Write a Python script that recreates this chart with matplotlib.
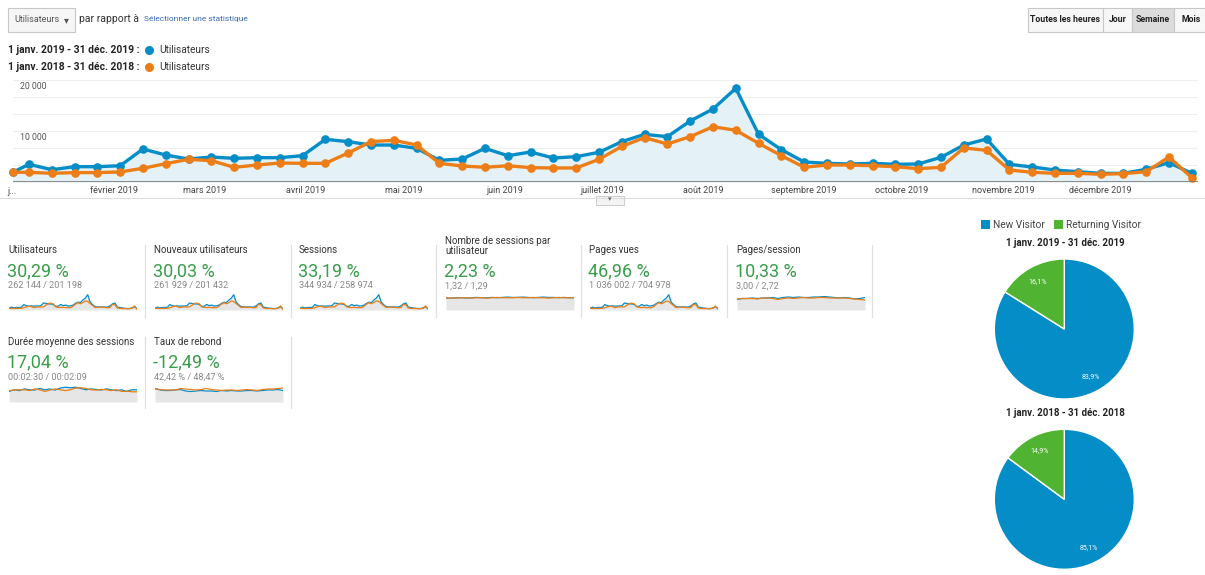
import numpy as np
import pandas as pd
import matplotlib
matplotlib.use("Agg")
import matplotlib.pyplot as plt
import matplotlib.transforms as mtransforms
from matplotlib.patches import Rectangle

plt.rcParams["font.family"] = ["Roboto", "DejaVu Sans"]

# weekly users (first point = Jan 1, then every Sunday)
week_dates = np.concatenate([[np.datetime64("2019-01-01")],
                             pd.date_range("2019-01-06", periods=52, freq="7D").values.astype("datetime64[D]")])
users_2019 = [1960, 3530, 2470, 3060, 3060, 3250, 6530, 5350, 4570, 4960, 4700, 4830, 4830, 5220,
              8430, 7970, 7310, 7310, 6660, 4310, 4570, 6660, 5220, 5940, 4760, 5030, 5880,
              7970, 9410, 8950, 12020, 14370, 18430, 9410, 6400, 3980, 3720, 3590, 3720, 3530,
              3590, 4900, 7310, 8490, 3530, 3000, 2410, 2080, 1760, 1760, 2550, 3850, 1760]
users_2018 = [1960, 1960, 1760, 1900, 1900, 2030, 2750, 3660, 4500, 4240, 2940, 3390, 3780, 3720,
              3720, 5750, 7970, 8230, 7310, 3720, 3200, 2940, 3250, 2870, 2810, 2810, 4500,
              7050, 8750, 7510, 8950, 10900, 10200, 7650, 5220, 2940, 3390, 3390, 3250, 3060,
              2670, 2940, 6730, 6270, 2410, 1960, 1760, 1760, 1570, 1700, 2080, 4960, 900]

month_starts = pd.date_range("2019-02-01", periods=11, freq="MS").values.astype("datetime64[D]")
month_labels = ["février 2019", "mars 2019", "avril 2019", "mai 2019", "juin 2019", "juillet 2019",
                "août 2019", "septembre 2019", "octobre 2019", "novembre 2019", "décembre 2019"]

# scorecards
card_titles = ["Utilisateurs", "Nouveaux utilisateurs", "Sessions", "Nombre de sessions par\nutilisateur",
               "Pages vues", "Pages/session", "Durée moyenne des sessions", "Taux de rebond"]
card_changes = ["30,29 %", "30,03 %", "33,19 %", "2,23 %", "46,96 %", "10,33 %", "17,04 %", "-12,49 %"]
card_totals = ["262 144 / 201 198", "261 929 / 201 432", "344 934 / 258 974", "1,32 / 1,29",
               "1 036 002 / 704 978", "3,00 / 2,72", "00:02:30 / 00:02:09", "42,42 % / 48,47 %"]

# sparklines for ratio metrics (approximate, bi-weekly)
spu_2019 = [1.30, 1.30, 1.31, 1.31, 1.30, 1.31, 1.32, 1.31, 1.31, 1.32, 1.31, 1.32, 1.33,
            1.32, 1.32, 1.33, 1.32, 1.31, 1.32, 1.33, 1.32, 1.32, 1.31, 1.32, 1.31, 1.31]
spu_2018 = [1.31, 1.30, 1.30, 1.31, 1.31, 1.30, 1.31, 1.31, 1.30, 1.31, 1.32, 1.31, 1.31,
            1.31, 1.32, 1.31, 1.31, 1.32, 1.31, 1.31, 1.30, 1.31, 1.32, 1.31, 1.31, 1.31]
pps_2019 = [2.85, 2.95, 2.95, 3.00, 2.95, 3.00, 3.00, 3.05, 2.95, 3.05, 3.10, 3.05, 3.10,
            3.05, 3.05, 3.10, 3.10, 3.15, 3.10, 3.05, 3.00, 3.05, 3.00, 2.90, 2.95, 3.05]
pps_2018 = [2.90, 2.95, 2.95, 2.95, 2.90, 3.00, 3.00, 2.95, 2.85, 2.95, 3.00, 2.95, 3.00,
            3.05, 3.00, 3.00, 3.05, 3.05, 3.00, 3.00, 3.00, 3.00, 2.95, 2.90, 2.85, 2.80]
dur_2019 = [140, 150, 145, 155, 150, 148, 158, 150, 155, 148, 160, 165, 162,
            165, 158, 150, 155, 152, 148, 155, 150, 145, 150, 140, 150, 150]
dur_2018 = [145, 148, 150, 150, 145, 155, 150, 140, 148, 155, 150, 145, 150,
            160, 162, 158, 150, 148, 152, 150, 145, 150, 140, 142, 138, 138]
bounce_2019 = [47, 44, 43, 43, 44, 45, 42, 41, 42, 43, 42, 42, 41,
               43, 42, 43, 42, 42, 43, 43, 42, 43, 44, 44, 45, 43]
bounce_2018 = [46, 45, 44, 44, 44, 47, 46, 45, 44, 45, 47, 45, 44,
               43, 44, 44, 43, 44, 45, 44, 43, 45, 46, 46, 47, 48]

# pies
pie_labels = ["New Visitor", "Returning Visitor"]
pie_2019 = [83.9, 16.1]
pie_2018 = [85.1, 14.9]
pie_titles = ["1 janv. 2019 - 31 déc. 2019", "1 janv. 2018 - 31 déc. 2018"]

BLUE = "#058dc7"
ORANGE = "#ed7e17"
GREEN_PIE = "#50b432"
GREEN_TXT = "#3a9d4a"

W, H = 1205, 575
fig = plt.figure(figsize=(W / 100, H / 100), dpi=100)


def px_axes(x0, y0, x1, y1):
    return fig.add_axes([x0 / W, 1 - y1 / H, (x1 - x0) / W, (y1 - y0) / H])


# background layer in pixel coordinates
bg = fig.add_axes([0, 0, 1, 1])
bg.set_xlim(0, W)
bg.set_ylim(H, 0)
bg.axis("off")

# header controls
bg.add_patch(Rectangle((8, 8), 67, 24, facecolor="#f6f6f6", edgecolor="#c8c8c8", lw=0.8))
bg.text(14, 20, "Utilisateurs", fontsize=6.5, color="#555", va="center")
bg.text(66, 20, "▾", fontsize=7, color="#555", va="center", ha="center", family=["DejaVu Sans"])
bg.text(79, 19, "par rapport à", fontsize=7.5, color="#333", va="center")
bg.text(144, 19.5, "Sélectionner une statistique", fontsize=6, color="#3b6cb0", va="center")

buttons = [("Toutes les heures", 1028, 1103), ("Jour", 1103, 1132), ("Semaine", 1132, 1174), ("Mois", 1174, 1215)]
for lab, x0, x1 in buttons:
    fc = "#dcdcdc" if lab == "Semaine" else "#f7f7f7"
    bg.add_patch(Rectangle((x0, 8), x1 - x0, 24, facecolor=fc, edgecolor="#c8c8c8", lw=0.8))
    bg.text((x0 + x1) / 2 if lab != "Mois" else 1191, 20, lab, fontsize=6.3,
            color="#222", va="center", ha="center", fontweight="bold")

# legend of the main chart
for i, (period, col) in enumerate([("1 janv. 2019 - 31 déc. 2019 :", BLUE),
                                   ("1 janv. 2018 - 31 déc. 2018 :", ORANGE)]):
    y = 50 + i * 17
    bg.text(8, y, period, fontsize=7.4, fontweight="bold", color="#222", va="center")
    bg.plot(149, y, "o", color=col, ms=5.5)
    bg.text(159, y, "Utilisateurs", fontsize=7.3, color="#333", va="center")

# main line chart
ax = px_axes(12.7, 80.3, 1198.3, 182.3)
ax.set_facecolor("none")
ax.set_xlim(np.datetime64("2019-01-01"), np.datetime64("2019-12-31"))
ax.set_ylim(0, 20000)
for g in np.arange(1, 7) * 10000 / 3:
    ax.axhline(g, color="#efefef", lw=0.8, zorder=0)
ax.fill_between(week_dates, users_2019, color="#e4f2f8", zorder=1, lw=0)
ax.plot(week_dates, users_2019, color=BLUE, lw=2.4, marker="o", ms=5.2, zorder=3, clip_on=False)
ax.plot(week_dates, users_2018, color=ORANGE, lw=2.4, marker="o", ms=5.2, zorder=4, clip_on=False)
ax.axhline(0, color="#777", lw=1.2, zorder=5)
for s in ax.spines.values():
    s.set_visible(False)
ax.set_xticks([])
ax.set_yticks([])
for val, lab in [(20000, "20 000"), (10000, "10 000")]:
    ax.text(0.006, val - 1300, lab, transform=mtransforms.blended_transform_factory(ax.transAxes, ax.transData),
            fontsize=6.3, color="#555", va="center")
tr = mtransforms.blended_transform_factory(ax.transData, ax.transAxes)
for d, lab in zip(month_starts, month_labels):
    ax.text(d, -0.085, lab, transform=tr, fontsize=6.5, color="#444", ha="center", va="center")
bg.text(7, 191, "j...", fontsize=6.5, color="#444", va="center")

# drag handle under the chart
bg.plot([0, W], [198, 198], color="#dddddd", lw=0.8)
bg.add_patch(Rectangle((596, 196), 28, 9, facecolor="#f4f4f4", edgecolor="#cccccc", lw=0.7))
bg.text(610, 199.5, "▾", fontsize=5, color="#666", ha="center", va="center", family=["DejaVu Sans"])

# scorecards
card_x = [8, 154, 299, 445, 589, 736, 8, 154]
card_row = [0, 0, 0, 0, 0, 0, 1, 1]
sparks = [(users_2019, users_2018), (users_2019, users_2018), (users_2019, users_2018),
          (spu_2019, spu_2018), (users_2019, users_2018), (pps_2019, pps_2018),
          (dur_2019, dur_2018), (bounce_2019, bounce_2018)]
spark_ylim = [(0, 20500), (0, 20500), (0, 20500), (0.95, 1.45), (0, 20500), (1.8, 3.5),
              (78, 178), (20, 54)]
rows_y = [dict(title=250, big=271, sub=286, sp0=293, sp1=310, d0=245, d1=317),
          dict(title=342, big=362, sub=377, sp0=385, sp1=402, d0=337, d1=408)]

for i in range(8):
    x = card_x[i]
    r = rows_y[card_row[i]]
    if "\n" in card_titles[i]:
        bg.text(x, r["title"] - 4, card_titles[i], fontsize=7, color="#333", va="center", linespacing=1.0)
    else:
        bg.text(x, r["title"], card_titles[i], fontsize=7, color="#333", va="center")
    bg.text(x - 1, r["big"], card_changes[i], fontsize=13, color=GREEN_TXT, va="center")
    bg.text(x, r["sub"], card_totals[i], fontsize=6.6, color="#888", va="center")
    s19, s18 = sparks[i]
    sa = px_axes(x + 1, r["sp0"], x + 129, r["sp1"])
    sa.axis("off")
    n = len(s19)
    sa.set_xlim(0, n - 1)
    sa.set_ylim(*spark_ylim[i])
    sa.fill_between(range(n), s19, spark_ylim[i][0], color="#e6e6e6", lw=0)
    sa.plot(range(n), s19, color=BLUE, lw=0.9)
    sa.plot(range(n), s18, color=ORANGE, lw=0.9)
    # divider right of the card
    dx = card_x[i] + 137 if i not in (3, 4, 5) else [581, 727, 872][i - 3]
    bg.plot([dx, dx], [r["d0"], r["d1"]], color="#e0e0e0", lw=0.9)

# pie legend
bg.add_patch(Rectangle((981, 220), 8.5, 8.5, facecolor=BLUE, lw=0))
bg.text(993, 224.5, pie_labels[0], fontsize=7.3, color="#444", va="center")
bg.add_patch(Rectangle((1054, 220), 8.5, 8.5, facecolor=GREEN_PIE, lw=0))
bg.text(1066, 224.5, pie_labels[1], fontsize=7.3, color="#444", va="center")

for k, (vals, title) in enumerate([(pie_2019, pie_titles[0]), (pie_2018, pie_titles[1])]):
    cy = 329 + k * 170.3
    bg.text(1065, cy - 86, title, fontsize=7, fontweight="bold", color="#222", ha="center", va="center")
    pa = px_axes(1064.3 - 70, cy - 70, 1064.3 + 70, cy + 70)
    pa.pie(vals, colors=[BLUE, GREEN_PIE], startangle=90, counterclock=False, radius=1,
           autopct=lambda p: f"{p:.1f}%".replace(".", ","), pctdistance=0.78,
           wedgeprops=dict(edgecolor="white", lw=1),
           textprops=dict(color="white", fontsize=5))
    pa.set_xlim(-1, 1)
    pa.set_ylim(-1, 1)

fig.savefig("out.png", dpi=100)
